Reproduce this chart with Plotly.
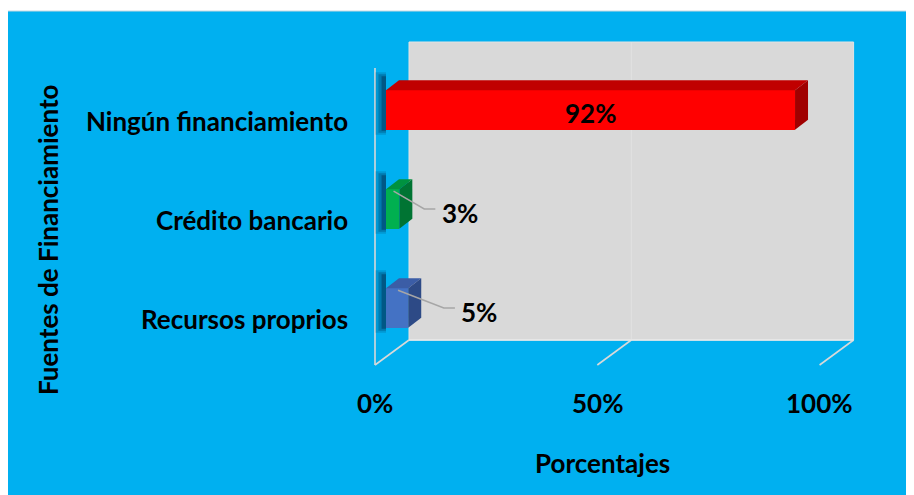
import plotly.graph_objects as go

# ---------------- data ----------------
categories = ["Recursos proprios", "Crédito bancario", "Ningún financiamiento"]
values = [5, 3, 92]
value_labels = ["5%", "3%", "92%"]
x_ticks = [0, 50, 100]
x_tick_labels = ["0%", "50%", "100%"]

# ---------------- styles ----------------
front_colors = ["#4472C4", "#00B050", "#FF0000"]
top_colors = ["#3B5DA6", "#00923F", "#C00000"]
side_colors = ["#2D4A86", "#007433", "#A00000"]
BG = "#00B0F0"
WALL = "#D9D9D9"
EDGE = "#D9D9D9"
FONT = "Lato"
FS = 26

# ---------------- pixel calibration (page pixels) ----------------
OFF = 8                      # page body margin
W, H = 914, 495              # figure size
L, R, T, B = 352, 862, 22, 412   # plot area in figure pixels
PX0, PXU = 386, 4.446   # page px of 0 %, px per percent
PY0, PYU = 308, 99      # page px of first category, px per category


def xd(px):
    return (px - PX0) / PXU


def yd(py):
    return (PY0 - py) / PYU


def xp(px):   # page px -> paper x
    return (px - OFF - L) / (R - L)


def yp(py):   # page px -> paper y
    return (B - (py - OFF)) / (B - T)


bar_w = 0.40
ddx, ddy = 13 / PXU, 10 / PYU          # bar depth
back_dx, back_dy = 23 / PXU, 17 / PYU  # bar plane -> back wall
front_dx, front_dy = -11 / PXU, -8 / PYU  # bar plane -> front edge
floor_y = yd(357)
label_offset = [16.0, 13.6, 0]  # outside label distance (percent units)

fig = go.Figure()

# walls / grid (decoration)
shapes = []
shapes.append(dict(type="rect", xref="x", yref="y",
                   x0=x_ticks[0] + back_dx, x1=x_ticks[-1] + back_dx,
                   y0=floor_y + back_dy, y1=yd(42),
                   fillcolor=WALL, line=dict(color="#E4E4E4", width=1), layer="below"))
for t in x_ticks[1:-1]:
    shapes.append(dict(type="line", xref="x", yref="y",
                       x0=t + back_dx, x1=t + back_dx, y0=floor_y + back_dy, y1=yd(42),
                       line=dict(color="#E2E2E2", width=1), layer="below"))
for t in x_ticks:
    shapes.append(dict(type="line", xref="x", yref="y",
                       x0=t + front_dx, x1=t + back_dx,
                       y0=floor_y + front_dy, y1=floor_y + back_dy,
                       line=dict(color=EDGE, width=1.6), layer="below"))
shapes.append(dict(type="line", xref="x", yref="y",
                   x0=x_ticks[0] + front_dx, x1=x_ticks[0] + front_dx,
                   y0=floor_y + front_dy, y1=yd(68),
                   line=dict(color=EDGE, width=1.6), layer="below"))
shapes.append(dict(type="line", xref="x", yref="y",
                   x0=x_ticks[0] + back_dx, x1=x_ticks[-1] + back_dx,
                   y0=floor_y + back_dy, y1=floor_y + back_dy,
                   line=dict(color="#E8E8E8", width=1.6), layer="below"))
# white strip above the blue frame
shapes.append(dict(type="rect", xref="paper", yref="paper", x0=xp(0) - 0.05, x1=xp(W + OFF) + 0.05,
                   y0=yp(11), y1=yp(0) + 0.05, fillcolor="white", line_width=0))
shapes.append(dict(type="line", xref="paper", yref="paper", x0=xp(0) - 0.05, x1=xp(W + OFF) + 0.05,
                   y0=yp(11), y1=yp(11), line=dict(color="#C8D8E0", width=1)))

# bar shadows
for i, v in enumerate(values):
    for k, a in enumerate([0.15, 0.22, 0.32]):
        w = 2.4 - 0.7 * k
        ya = i - bar_w / 2 - 0.05 + 0.02 * k
        yb = i + bar_w / 2 + ddy + 0.08 - 0.02 * k
        fig.add_trace(go.Scatter(
            x=[-w, 0, 0, -w, -w], y=[ya, ya, yb, yb, ya],
            fill="toself", fillcolor=f"rgba(0,20,50,{a})", line=dict(width=0),
            mode="lines", hoverinfo="skip", showlegend=False))

# front faces
fig.add_trace(go.Bar(x=values, y=list(range(len(values))), orientation="h", width=bar_w,
                     marker=dict(color=front_colors, line=dict(width=0)),
                     hovertext=categories, showlegend=False))
# top and side faces
for i, v in enumerate(values):
    y0, y1 = i - bar_w / 2, i + bar_w / 2
    fig.add_trace(go.Scatter(x=[0, v, v + ddx, ddx, 0], y=[y1, y1, y1 + ddy, y1 + ddy, y1],
                             fill="toself", fillcolor=top_colors[i], line=dict(width=0),
                             mode="lines", hoverinfo="skip", showlegend=False))
    fig.add_trace(go.Scatter(x=[v, v + ddx, v + ddx, v, v], y=[y0, y0 + ddy, y1 + ddy, y1, y0],
                             fill="toself", fillcolor=side_colors[i], line=dict(width=0),
                             mode="lines", hoverinfo="skip", showlegend=False))

bold = dict(family=FONT, size=FS, color="black", weight="bold")
annotations = []
# data labels
for i, v in enumerate(values):
    if v > 50:
        annotations.append(dict(x=v / 2, y=i - 0.03, xref="x", yref="y", text=value_labels[i],
                                showarrow=False, font=bold))
    else:
        lx = v + label_offset[i]
        fig.add_trace(go.Scatter(x=[v / 2 + 0.2, lx - 8.0, lx - 5.5], y=[i + 0.18, i, i],
                                 mode="lines", line=dict(color="#A6A6A6", width=1.5),
                                 hoverinfo="skip", showlegend=False))
        annotations.append(dict(x=lx, y=i - 0.04, xref="x", yref="y", text=value_labels[i],
                                showarrow=False, font=bold))

# category labels
for i, c in enumerate(categories):
    annotations.append(dict(x=xp(350), y=i - 0.11, xref="paper", yref="y", text=c,
                            xanchor="right", yanchor="middle", showarrow=False, font=bold))
# x tick labels
for t, lab in zip(x_ticks, x_tick_labels):
    annotations.append(dict(x=t + front_dx, y=yd(403), xref="x", yref="y", text=lab,
                            showarrow=False, font=bold))
# axis titles
annotations.append(dict(x=xp(602), y=yp(463), xref="paper", yref="paper",
                        xanchor="center", yanchor="middle",
                        text="Porcentajes", showarrow=False, font=bold))
annotations.append(dict(x=xp(48), y=yp(240), xref="paper", yref="paper",
                        xanchor="center", yanchor="middle",
                        text="Fuentes de Financiamiento", showarrow=False, textangle=-90,
                        font=bold))

fig.update_layout(
    width=W, height=H, autosize=False,
    margin=dict(l=L, r=W - R, t=T, b=H - B),
    paper_bgcolor=BG, plot_bgcolor="rgba(0,0,0,0)",
    xaxis=dict(range=[xd(L + OFF), xd(R + OFF)], visible=False, fixedrange=True),
    yaxis=dict(range=[yd(B + OFF), yd(T + OFF)], visible=False, fixedrange=True),
    shapes=shapes, annotations=annotations, bargap=0,
)

fig.write_html("out.html")
